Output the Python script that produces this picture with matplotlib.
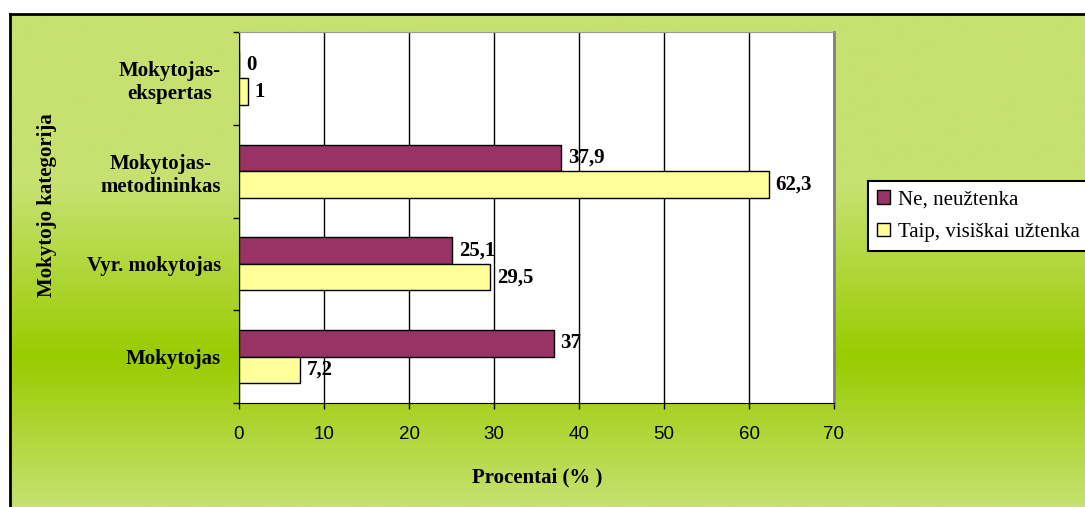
import numpy as np
import matplotlib.pyplot as plt
from matplotlib.colors import LinearSegmentedColormap

categories = ['Mokytojas', 'Vyr. mokytojas', 'Mokytojas-\nmetodininkas', 'Mokytojas-\nekspertas']
ne_vals = [37, 25.1, 37.9, 0]
taip_vals = [7.2, 29.5, 62.3, 1]
series_names = ['Ne, neužtenka', 'Taip, visiškai užtenka']
xticks = [0, 10, 20, 30, 40, 50, 60, 70]

W, H = 1085, 507
fig = plt.figure(figsize=(W / 100, H / 100), dpi=100)
fig.patch.set_facecolor('white')

# chart area background with green gradient
bg = fig.add_axes([10 / W, 0, 1 - 10 / W, (H - 14) / H])
light = '#c6e170'
mid = '#99cc00'
cmap = LinearSegmentedColormap.from_list('g', [(0, light), (0.35, light), (0.70, mid), (1.0, light)])
grad = np.linspace(0, 1, 400).reshape(-1, 1)
bg.imshow(grad, aspect='auto', cmap=cmap, extent=[0, 1, 0, 1], origin='upper')
bg.set_xlim(0, 1)
bg.set_ylim(0, 1)
bg.set_xticks([])
bg.set_yticks([])
for s in ['right', 'bottom']:
    bg.spines[s].set_visible(False)
for s in ['left', 'top']:
    bg.spines[s].set_linewidth(2)
    bg.spines[s].set_color('black')

ax = fig.add_axes([239 / W, (H - 403) / H, 595 / W, 371 / H])
ax.set_facecolor('white')

y = np.arange(len(categories))
h = 0.2857
ax.barh(y + h / 2, ne_vals, height=h, color='#993366', edgecolor='black', linewidth=1,
        label=series_names[0], zorder=3)
ax.barh(y - h / 2, taip_vals, height=h, color='#ffff99', edgecolor='black', linewidth=1,
        label=series_names[1], zorder=3)

bold_serif = dict(family='Liberation Serif', weight='bold', size=15)
for i in range(len(categories)):
    ax.annotate(str(ne_vals[i]).replace('.', ','), (ne_vals[i], y[i] + h / 2),
                xytext=(5, 0), textcoords='offset points',
                va='center', ha='left', zorder=4, **bold_serif)
    ax.annotate(str(taip_vals[i]).replace('.', ','), (taip_vals[i], y[i] - h / 2),
                xytext=(5, 0), textcoords='offset points',
                va='center', ha='left', zorder=4, **bold_serif)

ax.set_xlim(0, 70)
ax.set_ylim(-0.5, len(categories) - 0.5)
ax.set_xticks(xticks)
ax.set_xticklabels([str(t) for t in xticks], family='Liberation Sans', size=13.5)
ax.tick_params(axis='x', direction='out', length=4.5, width=1, pad=12)
ax.grid(axis='x', color='black', linewidth=1, zorder=1)

ax.set_yticks(np.arange(-0.5, len(categories)), minor=False)
ax.set_yticklabels([])
ax.tick_params(axis='y', which='major', direction='out', length=4.5, width=1)
ax.set_yticks(y, minor=True)
ax.set_yticklabels(categories, minor=True, ha='right', multialignment='center', **bold_serif)
ax.tick_params(axis='y', which='minor', length=0, pad=13)

ax.spines['left'].set_color('black')
ax.spines['bottom'].set_color('black')
ax.spines['top'].set_color('#999999')
ax.spines['right'].set_color('#808080')
ax.spines['right'].set_linewidth(2)

fig.text(537 / W, 1 - 477 / H, 'Procentai (% )', ha='center', va='center', **bold_serif)
fig.text(47 / W, 1 - 205 / H, 'Mokytojo kategorija', rotation=90, ha='center', va='center', **bold_serif)

leg = fig.legend(loc='upper left', bbox_to_anchor=(868 / W, 1 - 181 / H),
                 prop=dict(family='Liberation Serif', size=15), frameon=True, fancybox=False,
                 edgecolor='black', framealpha=1, handlelength=0.6, handleheight=0.6,
                 handletextpad=0.4, borderpad=0.45, labelspacing=0.65, borderaxespad=0)
leg.get_frame().set_linewidth(1.5)

fig.savefig('out.png', dpi=100)
